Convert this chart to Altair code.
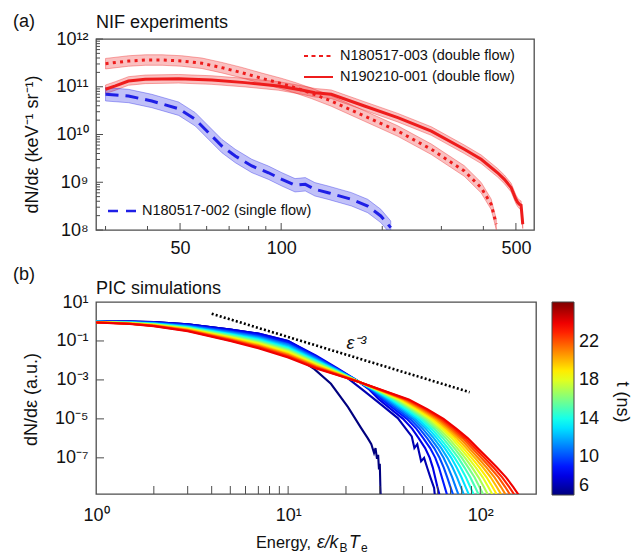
import altair as alt
import pandas as pd

FONT = "Liberation Sans"
INK = "#111111"
FRAME = "#4d4d4d"
RED = "#ee1c1c"
BLUE = "#1f1fe6"

# ---------------- panel (a): NIF experiments ----------------
E_003 = [30, 35.1, 39.4, 44.2, 50.6, 58.1, 66.6, 76.4, 87.6, 100.5, 110, 123, 141, 177, 222.5, 280, 351, 394, 422, 437]
N_003 = [3.04e11, 3.46e11, 3.63e11, 3.63e11, 3.46e11, 3.10e11, 2.51e11, 1.97e11, 1.50e11, 1.16e11, 9.55e10,
         7.29e10, 5.03e10, 2.44e10, 1.18e10, 4.9e9, 1.72e9, 7.7e8, 3.45e8, 1.32e8]
E_001 = [30, 32.1, 35.1, 39.4, 49.5, 62.2, 78.1, 98.2, 115, 126, 141, 177, 222.5, 280, 351, 394, 441, 462, 484,
         500, 506, 512, 518, 524]
N_001 = [8.85e10, 1.04e11, 1.32e11, 1.43e11, 1.47e11, 1.38e11, 1.22e11, 1.04e11, 8.55e10, 7.5e10, 6.95e10,
         3.95e10, 2.25e10, 1.18e10, 4.9e9, 3.03e9, 1.58e9, 1.15e9, 7.7e8, 4.4e8, 3.8e8, 3.45e8, 3.3e8, 1.32e8]
E_002 = [30, 35.1, 41.2, 49.5, 55.5, 60.8, 66.6, 73, 81.8, 91.7, 100.5, 110, 118, 126, 138, 162, 181, 198, 212]
N_002 = [6.95e10, 6.4e10, 5.03e10, 3.47e10, 2.08e10, 1.09e10, 5.74e9, 3.55e9, 2.19e9, 1.58e9, 1.15e9,
         8.64e8, 9.06e8, 7.12e8, 6.04e8, 4.39e8, 3.18e8, 1.97e8, 1.12e8]
# half-width of the shaded uncertainty bands, in decades
BAND_003 = 0.11
BAND_001 = 0.09
BAND_002 = 0.14

A_X_LABELS = [50, 100, 500]
A_X_MINOR = [30, 40, 60, 70, 80, 90, 200, 300, 400]
A_Y_DECADES = [1e8, 1e9, 1e10, 1e11, 1e12]
A_Y_MINOR = [k * d for d in [1e8, 1e9, 1e10, 1e11] for k in range(2, 10)]

# ---------------- panel (b): PIC simulations ----------------
PIC_TIMES = [8, 9, 10, 11, 12, 13, 14, 15, 16, 17, 18, 19, 20, 21, 22, 23, 24]
PIC_X_LOW = [1, 1.5, 2, 3, 5, 7, 10, 14, 18, 23]
PIC_LOGY_LOW = [
    [0.00, -0.01, -0.04, -0.15, -0.42, -0.62, -1.00, -1.75, -2.40, -3.05],
    [0.00, -0.02, -0.06, -0.18, -0.48, -0.69, -1.08, -1.81, -2.43, -3.05],
    [-0.01, -0.03, -0.07, -0.21, -0.52, -0.75, -1.15, -1.86, -2.46, -3.05],
    [-0.01, -0.04, -0.09, -0.23, -0.56, -0.80, -1.20, -1.91, -2.48, -3.06],
    [-0.02, -0.05, -0.10, -0.26, -0.60, -0.85, -1.26, -1.96, -2.51, -3.06],
    [-0.02, -0.05, -0.11, -0.28, -0.64, -0.90, -1.32, -2.00, -2.53, -3.06],
    [-0.02, -0.06, -0.13, -0.30, -0.67, -0.95, -1.37, -2.04, -2.55, -3.06],
    [-0.02, -0.07, -0.14, -0.32, -0.71, -0.99, -1.42, -2.08, -2.57, -3.06],
    [-0.03, -0.08, -0.15, -0.34, -0.74, -1.04, -1.47, -2.12, -2.59, -3.07],
    [-0.03, -0.08, -0.16, -0.36, -0.78, -1.08, -1.52, -2.16, -2.61, -3.07],
    [-0.03, -0.09, -0.17, -0.39, -0.81, -1.12, -1.57, -2.20, -2.64, -3.07],
    [-0.04, -0.10, -0.19, -0.40, -0.84, -1.17, -1.62, -2.24, -2.65, -3.07],
    [-0.04, -0.10, -0.20, -0.42, -0.87, -1.21, -1.67, -2.27, -2.67, -3.07],
    [-0.04, -0.11, -0.21, -0.44, -0.91, -1.25, -1.71, -2.31, -2.69, -3.08],
    [-0.04, -0.12, -0.22, -0.46, -0.94, -1.29, -1.76, -2.35, -2.71, -3.08],
    [-0.05, -0.12, -0.23, -0.48, -0.97, -1.33, -1.80, -2.38, -2.73, -3.08],
    [-0.05, -0.13, -0.24, -0.50, -1.00, -1.37, -1.85, -2.42, -2.75, -3.08],
]
PIC_LOGY_TAIL = [-3.5, -4.0, -4.5, -5.0, -5.5, -6.0, -6.5, -7.0, -7.5, -8.0, -8.5, -9.2]
PIC_LOGX_TAIL = [
    [1.423, 1.473, 1.535, 1.598, 1.645, 1.680, 1.713, 1.737, 1.753, 1.765, 1.777, 1.796],
    [1.429, 1.488, 1.553, 1.618, 1.667, 1.704, 1.739, 1.766, 1.785, 1.800, 1.815, 1.836],
    [1.433, 1.500, 1.567, 1.634, 1.684, 1.724, 1.760, 1.788, 1.810, 1.828, 1.845, 1.869],
    [1.438, 1.510, 1.581, 1.649, 1.700, 1.742, 1.779, 1.809, 1.833, 1.854, 1.872, 1.898],
    [1.442, 1.521, 1.593, 1.663, 1.716, 1.759, 1.797, 1.829, 1.856, 1.879, 1.899, 1.927],
    [1.446, 1.531, 1.605, 1.676, 1.731, 1.775, 1.815, 1.849, 1.877, 1.902, 1.924, 1.954],
    [1.449, 1.540, 1.617, 1.690, 1.745, 1.791, 1.831, 1.867, 1.898, 1.925, 1.948, 1.980],
    [1.453, 1.550, 1.629, 1.702, 1.759, 1.807, 1.848, 1.886, 1.918, 1.948, 1.973, 2.006],
    [1.457, 1.559, 1.640, 1.715, 1.773, 1.822, 1.865, 1.904, 1.938, 1.970, 1.996, 2.031],
    [1.460, 1.568, 1.651, 1.727, 1.786, 1.837, 1.880, 1.921, 1.958, 1.991, 2.019, 2.056],
    [1.464, 1.577, 1.662, 1.740, 1.799, 1.852, 1.896, 1.938, 1.977, 2.013, 2.042, 2.081],
    [1.467, 1.586, 1.672, 1.751, 1.812, 1.866, 1.911, 1.955, 1.996, 2.033, 2.064, 2.104],
    [1.471, 1.594, 1.683, 1.763, 1.825, 1.880, 1.927, 1.972, 2.015, 2.054, 2.086, 2.128],
    [1.474, 1.603, 1.693, 1.775, 1.838, 1.895, 1.942, 1.988, 2.033, 2.074, 2.108, 2.151],
    [1.477, 1.611, 1.704, 1.786, 1.850, 1.909, 1.957, 2.005, 2.051, 2.095, 2.130, 2.175],
    [1.481, 1.620, 1.714, 1.798, 1.863, 1.922, 1.972, 2.021, 2.069, 2.114, 2.151, 2.198],
    [1.484, 1.628, 1.724, 1.809, 1.875, 1.936, 1.986, 2.037, 2.087, 2.134, 2.172, 2.220],
]
T6_X = [1, 1.5, 2, 3, 5, 7, 9, 10.4, 11.7, 13.7, 16.7, 20.5, 23.9, 26, 27.1, 28, 28.5, 29, 29.4, 29.7, 30.0, 30.2, 30.4]
T6_LOGY = [0.00, -0.01, -0.03, -0.14, -0.42, -0.64, -1.0, -1.5, -2.0, -2.45, -3.2, -4.4, -5.45, -6.0, -6.3,
           -6.75, -6.5, -7.05, -6.85, -7.6, -7.3, -8.5, -9.3]
T7_X = [1, 1.5, 2, 3, 5, 7, 10, 14, 18.9, 25, 30.5, 37.2, 42, 44, 45.4, 47, 49.2, 51, 53, 55, 57.5, 58.5]
T7_LOGY = [0.00, -0.01, -0.03, -0.14, -0.41, -0.62, -1.0, -1.8, -2.65, -3.59, -4.27, -4.96, -5.64, -5.9,
           -6.5, -6.3, -7.18, -7.0, -7.52, -8.0, -8.55, -9.3]
REF_X = [4, 88]
REF_Y = [2.5, 2.35e-4]
EPS_LABEL_X = [20.1]
EPS_LABEL_Y = [0.0366]
B_X_LABELS = [1, 10, 100]
B_X_MINOR = [2, 3, 4, 5, 6, 7, 8, 9, 10, 20, 30, 40, 50, 60, 70, 80, 90, 100]
B_Y_LABELS = [10, 0.1, 1e-3, 1e-5, 1e-7]
B_Y_TICKS = [0.1, 1e-3, 1e-5, 1e-7]
CBAR_VALUES = [6, 10, 14, 18, 22]
JET_STOPS = [6, 8.525, 11.05, 13.575, 16.1, 18.625, 21.15, 23.675, 26.2]
JET_COLORS = ["#00007f", "#0000ff", "#0080ff", "#00ffff", "#80ff80", "#ffff00", "#ff8000", "#ff0000", "#7f0000"]

W_A, H_A = 438, 191
W_B, H_B = 440, 192
ONE = pd.DataFrame({"z": [0]})


def text(s, x, y, size=18, align="left", baseline="alphabetic", style="normal", angle=0):
    return alt.Chart(ONE).mark_text(text=s, align=align, baseline=baseline, fontSize=size, font=FONT,
                                    fontStyle=style, color=INK, angle=angle).encode(
        x=alt.value(x), y=alt.value(y))


def hrule(x1, x2, y, color, width, dash=None):
    kw = dict(color=color, strokeWidth=width)
    if dash:
        kw["strokeDash"] = dash
    return alt.Chart(ONE).mark_rule(**kw).encode(x=alt.value(x1), x2=alt.value(x2), y=alt.value(y))


# ---------- panel (a) ----------
SX_A = alt.Scale(type="log", domain=[28.1, 566], nice=False)
SY_A = alt.Scale(type="log", domain=[1e8, 1e12], nice=False)
AX_XA = alt.Axis(values=A_X_LABELS, labelExpr="format(datum.value, 'd')", ticks=False, domain=False, grid=False,
                 labelFontSize=18, labelPadding=9, labelFlush=False, labelOverlap=False, labelColor=INK,
                 labelFont=FONT, title=None)
AX_YA = alt.Axis(values=A_Y_DECADES,
                 labelExpr="datum.value >= 5e11 ? '10¹²' : datum.value >= 5e10 ? '10¹¹' : datum.value >= 5e9 ? '10¹⁰' : datum.value >= 5e8 ? '10⁹' : '10⁸'",
                 ticks=False, domain=False, grid=False, labelFontSize=18, labelPadding=8, labelFlush=False,
                 labelOverlap=False, labelColor=INK, labelFont=FONT,
                 title="dN/dε (keV⁻¹ sr⁻¹)", titleFont=FONT, titleFontSize=18, titleFontWeight="normal",
                 titleColor=INK, titleX=-64, titleY=105, titleAngle=-90, titleAlign="center",
                 titleBaseline="middle")


def XA(f="E"):
    return alt.X(f"{f}:Q", scale=SX_A, axis=AX_XA)


def YA(f="N"):
    return alt.Y(f"{f}:Q", scale=SY_A, axis=AX_YA)


def band_df(E, N, b):
    return pd.DataFrame({"E": E, "N": N, "lo": [n * 10 ** (-b) for n in N], "hi": [n * 10 ** b for n in N]})


d003 = band_df(E_003, N_003, BAND_003)
d001 = band_df(E_001, N_001, BAND_001)
d002 = band_df(E_002, N_002, BAND_002)


def band(df, c):
    return alt.Chart(df).mark_area(fill=c, fillOpacity=0.28, stroke=c, strokeOpacity=0.45, strokeWidth=0.8,
                                   clip=True).encode(x=XA(), y=YA("lo"), y2="hi:Q")


def line(df, c, dash, w):
    kw = dict(color=c, strokeWidth=w, clip=True)
    if dash:
        kw["strokeDash"] = dash
    return alt.Chart(df).mark_line(**kw).encode(x=XA(), y=YA())


xt_a_major = alt.Chart(pd.DataFrame({"E": A_X_LABELS})).mark_rule(color=FRAME, strokeWidth=1).encode(
    x=XA(), y=alt.value(H_A), y2=alt.value(H_A - 7))
xt_a_minor = alt.Chart(pd.DataFrame({"E": A_X_MINOR})).mark_rule(color=FRAME, strokeWidth=1).encode(
    x=XA(), y=alt.value(H_A), y2=alt.value(H_A - 4))
yt_a_major = alt.Chart(pd.DataFrame({"N": A_Y_DECADES})).mark_rule(color=FRAME, strokeWidth=1).encode(
    y=YA(), x=alt.value(0), x2=alt.value(7))
yt_a_minor = alt.Chart(pd.DataFrame({"N": A_Y_MINOR})).mark_rule(color=FRAME, strokeWidth=1).encode(
    y=YA(), x=alt.value(0), x2=alt.value(4))

anchor = alt.Chart(ONE).mark_rule(opacity=0, strokeWidth=1).encode(
    x=alt.value(-94.5), x2=alt.value(-94), y=alt.value(-37.5))

panel_a = alt.layer(
    band(d003, RED), band(d001, RED), band(d002, BLUE),
    line(d003, RED, [3, 4.3], 3), line(d001, RED, None, 3), line(d002, BLUE, [13, 7], 3),
    xt_a_major, xt_a_minor, yt_a_major, yt_a_minor,
    hrule(208, 237, 17, RED, 2, [4, 3.5]), text("N180517-003 (double flow)", 244, 17, 14.5, baseline="middle"),
    hrule(208, 237, 38, RED, 2), text("N190210-001 (double flow)", 244, 38, 14.5, baseline="middle"),
    hrule(12, 41, 172, BLUE, 2.5, [10, 8]), text("N180517-002 (single flow)", 46, 172, 14.5, baseline="middle"),
    text("(a)", -83, -12.5), text("NIF experiments", 0, -11),
    anchor,
).properties(width=W_A, height=H_A)

# ---------- panel (b) ----------
SX_B = alt.Scale(type="log", domain=[1, 195], nice=False)
SY_B = alt.Scale(type="log", domain=[1.39e-9, 10], nice=False)
AX_XB = alt.Axis(values=B_X_LABELS,
                 labelExpr="datum.value > 50 ? '10²' : datum.value > 5 ? '10¹' : '10⁰'",
                 ticks=False, domain=False, grid=False, labelFontSize=18, labelPadding=12, labelFlush=False,
                 labelOverlap=False, labelColor=INK, labelFont=FONT, title=None)
AX_YB = alt.Axis(values=B_Y_LABELS,
                 labelExpr="datum.value > 1 ? '10¹' : datum.value > 0.01 ? '10⁻¹' : datum.value > 1e-4 ? '10⁻³' : datum.value > 1e-6 ? '10⁻⁵' : '10⁻⁷'",
                 ticks=False, domain=False, grid=False, labelFontSize=18, labelPadding=8, labelFlush=False,
                 labelOverlap=False, labelColor=INK, labelFont=FONT,
                 title="dN/dε (a.u.)", titleFont=FONT, titleFontSize=18, titleFontWeight="normal",
                 titleColor=INK, titleX=-65, titleY=97, titleAngle=-90, titleAlign="center",
                 titleBaseline="middle")


def XB(f="x"):
    return alt.X(f"{f}:Q", scale=SX_B, axis=AX_XB)


def YB(f="y"):
    return alt.Y(f"{f}:Q", scale=SY_B, axis=AX_YB)


rows = []
for x, ly in zip(T6_X, T6_LOGY):
    rows.append({"t": 6, "x": x, "y": 10 ** ly})
for x, ly in zip(T7_X, T7_LOGY):
    rows.append({"t": 7, "x": x, "y": 10 ** ly})
for k, t in enumerate(PIC_TIMES):
    for x, ly in zip(PIC_X_LOW, PIC_LOGY_LOW[k]):
        rows.append({"t": t, "x": x, "y": 10 ** ly})
    for lx, ly in zip(PIC_LOGX_TAIL[k], PIC_LOGY_TAIL):
        rows.append({"t": t, "x": 10 ** lx, "y": 10 ** ly})
fan = pd.DataFrame(rows)
fan["i"] = range(len(fan))

JET = alt.Scale(domain=JET_STOPS, range=JET_COLORS, interpolate="rgb", clamp=True)
fan_layer = alt.Chart(fan).mark_line(strokeWidth=2.1, clip=True).encode(
    x=XB(), y=YB(),
    color=alt.Color("t:Q", scale=JET, legend=alt.Legend(
        orient="none", legendX=456, legendY=0, direction="vertical", gradientLength=193,
        gradientThickness=22, values=CBAR_VALUES, title=None, labelFontSize=18, labelFont=FONT,
        labelColor=INK, labelOffset=5, labelOverlap=False, gradientStrokeColor="#444",
        gradientStrokeWidth=1)),
    detail="t:N", order="i:Q")

ref = alt.Chart(pd.DataFrame({"x": REF_X, "y": REF_Y})).mark_line(
    color="black", strokeDash=[2, 2.2], strokeWidth=2.6).encode(x=XB(), y=YB())
eps = alt.Chart(pd.DataFrame({"x": EPS_LABEL_X, "y": EPS_LABEL_Y, "s": ["ε⁻³"]})).mark_text(
    align="left", baseline="alphabetic", fontSize=18, fontStyle="italic", font=FONT, color=INK).encode(
    x=XB(), y=YB(), text="s:N")

xt_b = alt.Chart(pd.DataFrame({"x": B_X_MINOR})).mark_rule(color=FRAME, strokeWidth=1).encode(
    x=XB(), y=alt.value(H_B), y2=alt.value(H_B - 8))
yt_b = alt.Chart(pd.DataFrame({"y": B_Y_TICKS})).mark_rule(color=FRAME, strokeWidth=1).encode(
    y=YB(), x=alt.value(0), x2=alt.value(8))

panel_b = alt.layer(
    fan_layer, ref, eps, xt_b, yt_b,
    text("(b)", -83, -22), text("PIC simulations", 0, -8),
    text("Energy,", 160, 246, 16.3), text("ε/k", 221, 246, 17.5, style="italic"),
    text("B", 243.5, 249.5, 12), text("T", 253, 246, 17.5, style="italic"), text("e", 265, 249.5, 12),
    text("t (ns)", 526, 100, 18, align="center", baseline="middle", angle=90),
).properties(width=W_B, height=H_B)

chart = alt.vconcat(panel_a, panel_b, spacing=72, bounds="flush").resolve_scale(
    x="independent", y="independent", color="independent"
).properties(padding=0).configure_view(stroke=FRAME, strokeWidth=1.3)

chart.save("out.html", embed_options={"renderer": "svg", "actions": False})
